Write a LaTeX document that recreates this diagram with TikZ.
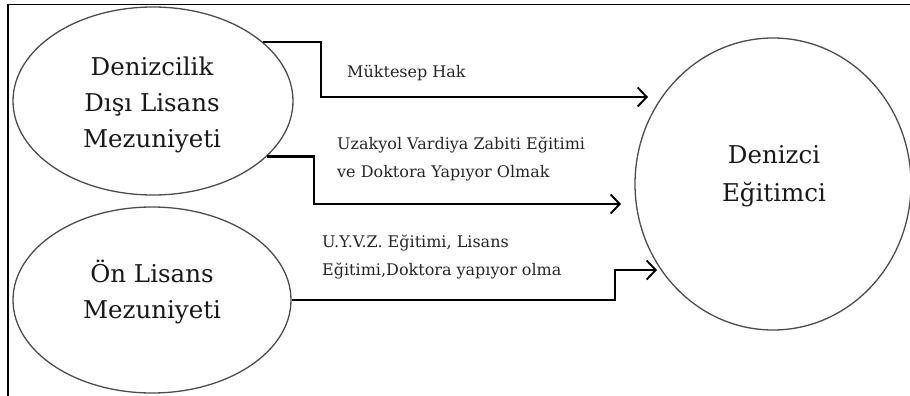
\documentclass[tikz,border=0pt]{standalone}
\usepackage{fontspec}
\setmainfont{DejaVu Serif}
\usetikzlibrary{shapes.geometric,arrows.meta}
\begin{document}
\begin{tikzpicture}[x=1pt,y=-1pt,
  oval/.style={draw=black!70,line width=1.3pt,ellipse,inner sep=0pt},
  bigtext/.style={align=center,font=\fontsize{24.5}{36}\selectfont,inner sep=0pt,text=black!90},
  lbl/.style={align=left,font=\fontsize{16}{28}\selectfont,inner sep=0pt,anchor=west,text=black!85},
  conn/.style={draw=black,line width=2.2pt,-{Straight Barb[length=9pt,width=19pt,line width=1.9pt]}},
  frameline/.style={draw=black,line width=1.6pt}]
\useasboundingbox (0,0) rectangle (910,396);
% frame
\coordinate (fa) at (8,396);
\coordinate (fb) at (8,4.5);
\coordinate (fc) at (910,4.5);
\draw[frameline] (fa) -- (fb) -- (fc);
% shapes
\node[oval,minimum width=280pt,minimum height=188pt] (e1) at (153,101) {};
\node[oval,minimum width=278pt,minimum height=186pt] (e2) at (152,300) {};
\node[oval,minimum width=276pt,minimum height=292pt] (c) at (773,184) {};
% texts
\node[bigtext] (e1t) at (152,105) {Denizcilik\\Dışı Lisans\\Mezuniyeti};
\node[bigtext] (e2t) at (152,292) {Ön Lisans\\Mezuniyeti};
\node[bigtext,font=\fontsize{24.5}{38}\selectfont] (ct) at (774,176) {Denizci\\Eğitimci};
% connectors
\coordinate (k1) at (321,97);
\coordinate (t1) at (648,97);
\draw[conn] (e1.28) -| (k1) -- (t1);
\coordinate (k2) at (314,204);
\coordinate (t2) at (621,204);
\draw[conn] (e1.-26) -| (k2) -- (t2);
\coordinate (k3) at (615,270);
\coordinate (t3) at (657,270);
\draw[conn] (e2.east) -| (k3) -- (t3);
% labels
\node[lbl] (l1) at (347,73) {Müktesep Hak};
\node[lbl] (l2) at (337,159) {Uzakyol Vardiya Zabiti Eğitimi\\ve Doktora Yapıyor Olmak};
\node[lbl] (l3) at (322,257) {U.Y.V.Z. Eğitimi, Lisans\\Eğitimi,Doktora yapıyor olma};
\end{tikzpicture}
\end{document}
